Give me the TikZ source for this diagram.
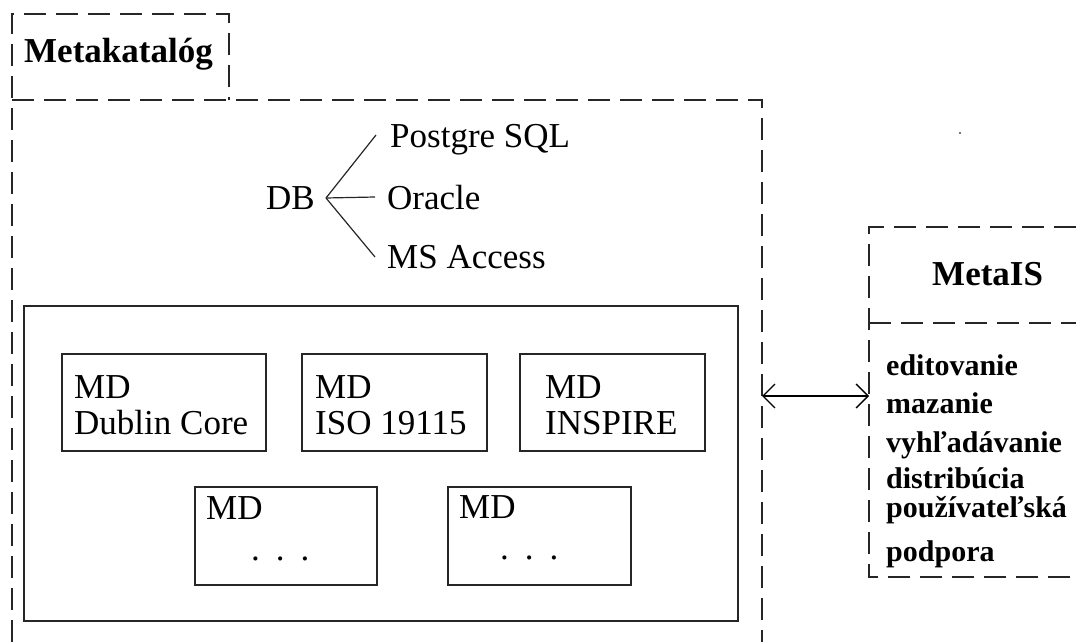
\documentclass[tikz,border=0pt]{standalone}
\usepackage{fontspec}
\setmainfont{Liberation Serif}
\usetikzlibrary{arrows.meta}
\tikzset{
  frame/.style={draw=black!85, line width=1.4pt, dash pattern=on 22pt off 10pt},
  mdbox/.style={draw=black!85, line width=1.5pt, inner sep=0pt},
  txt/.style={inner sep=0pt, anchor=base west, font=\fontsize{35}{31}\selectfont},
  bold/.style={inner sep=0pt, anchor=base west, font=\fontsize{35}{35}\selectfont\bfseries},
  item/.style={inner sep=0pt, anchor=base west, font=\fontsize{30}{30}\selectfont\bfseries},
  fan/.style={draw=black!85, line width=1.2pt},
  link/.style={draw=black, line width=1.3pt, {Straight Barb[length=12pt,width=24pt]}-{Straight Barb[length=12pt,width=24pt]}}
}
\begin{document}
\begin{tikzpicture}[x=1pt,y=-1pt]
\useasboundingbox (0,0) rectangle (1076,642);
\fill[white] (0,0) rectangle (1076,642);

% Metakatalog frame with its tab
\draw[frame] (12,642) -- (12,14) -- (229,14) -- (229,100);
\draw[frame] (12,100) -- (762,100) -- (762,642);
\node[bold] (mk) at (24,63) {Metakatalóg};

% database choices
\node[txt] (db) at (266,209) {DB};
\node[txt] (pg) at (390,147) {Postgre SQL};
\node[txt] (or) at (387,209) {Oracle};
\node[txt] (ms) at (387,268) {MS Access};
\coordinate (apex) at (326,198);
\coordinate (pgend) at (376,135);
\coordinate (orend) at (375,197);
\coordinate (msend) at (375,257);
\draw[fan] (apex) -- (pgend);
\draw[fan] (apex) -- (orend);
\draw[fan] (apex) -- (msend);

% metadata formats
\node[mdbox, minimum width=714pt, minimum height=315pt] (store) at (381,463.5) {};
\node[mdbox, minimum width=204pt, minimum height=97pt] (dc) at (164,402.5) {};
\node[mdbox, minimum width=185pt, minimum height=97pt] (iso) at (394.5,402.5) {};
\node[mdbox, minimum width=185pt, minimum height=97pt] (insp) at (612.5,402.5) {};
\node[mdbox, minimum width=182pt, minimum height=98pt] (oth1) at (286,536) {};
\node[mdbox, minimum width=183pt, minimum height=98pt] (oth2) at (539.5,536) {};

\node[txt] (dct1) at (74,398) {MD};
\node[txt] (dct2) at (74,434) {Dublin Core};
\node[txt] (isot1) at (315,398) {MD};
\node[txt] (isot2) at (315,434) {ISO 19115};
\node[txt] (inst1) at (545,398) {MD};
\node[txt] (inst2) at (545,434) {INSPIRE};
\node[txt] (o1t1) at (206,519) {MD};
\node[txt] (o1t2) at (251,560) {.\kern16pt.\kern16pt.};
\node[txt] (o2t1) at (459,518) {MD};
\node[txt] (o2t2) at (500,559) {.\kern16pt.\kern16pt.};

% MetaIS panel
\draw[frame] (1076,227) -- (869,227) -- (869,577) -- (1076,577);
\draw[frame] (869,323) -- (1076,323);
\node[bold] (mis) at (932,285) {MetaIS};
\node[item] (i1) at (886,375) {editovanie};
\node[item] (i2) at (886,413) {mazanie};
\node[item] (i3) at (886,452) {vyhľadávanie};
\node[item] (i4) at (886,488) {distribúcia};
\node[item] (i5) at (886,517) {používateľská};
\node[item] (i6) at (886,561) {podpora};

% link between the catalogue and MetaIS
\coordinate (mkside) at (762,396);
\coordinate (misside) at (869,396);
\draw[link] (mkside) -- (misside);

\fill[black!70] (960,133) circle (1.2pt);
\end{tikzpicture}
\end{document}
